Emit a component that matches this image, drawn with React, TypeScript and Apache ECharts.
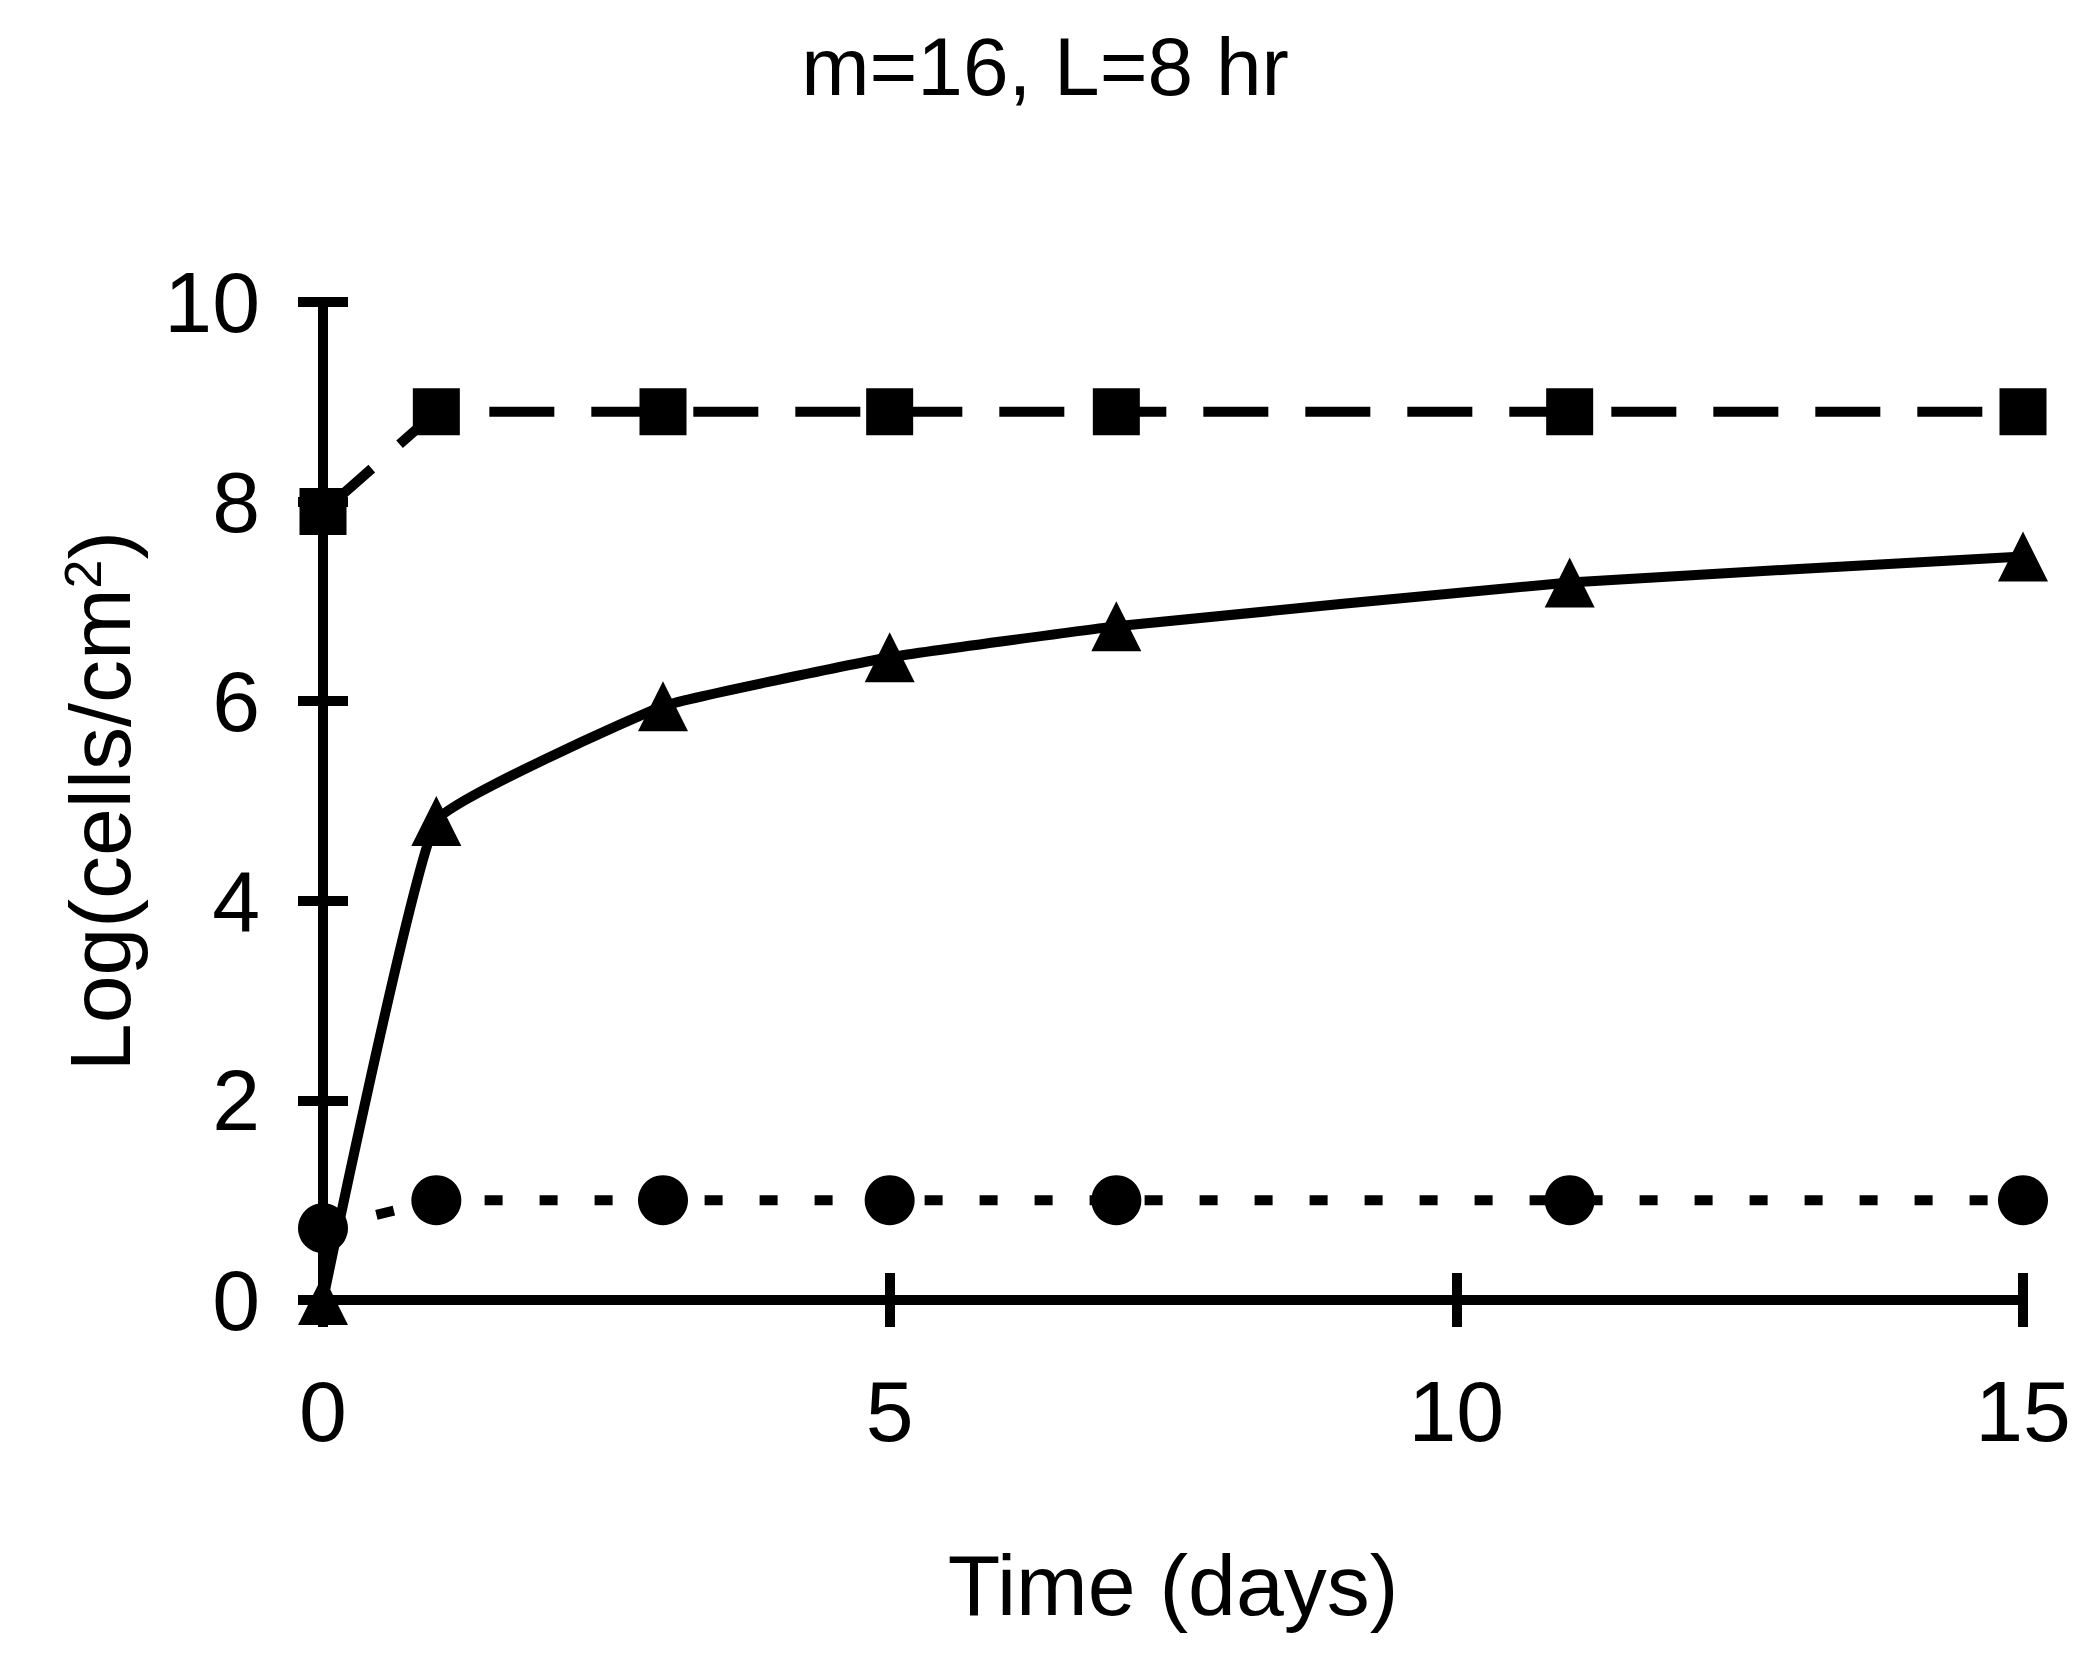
import React, { useEffect, useRef } from "react";
import * as echarts from "echarts";

const days = [0, 1, 3, 5, 7, 11, 15];
const squareValues = [7.9, 8.9, 8.9, 8.9, 8.9, 8.9, 8.9];
const triangleValues = [0, 4.8, 5.95, 6.44, 6.75, 7.19, 7.45];
const circleValues = [0.72, 1.0, 1.0, 1.0, 1.0, 1.0, 1.0];
const xTicks = [0, 5, 10, 15];
const yTicks = [0, 2, 4, 6, 8, 10];

const FONT = "'Liberation Sans', Arial, sans-serif";

export default function App() {
  const ref = useRef<HTMLDivElement>(null);
  useEffect(() => {
    if (!ref.current) return;
    const chart = echarts.init(ref.current, null, { renderer: "svg" });
    const pair = (vals: number[]) => days.map((d, i) => [d, vals[i]]);
    const axisLine = { show: true, lineStyle: { color: "#000", width: 10 } };
    const tickStyle = { color: "#000", width: 10 };
    const option: any = {
      animation: false,
      backgroundColor: "#fff",
      title: {
        text: "m=16, L=8 hr",
        left: 1040,
        textAlign: "center",
        top: 20,
        textStyle: { fontFamily: FONT, fontSize: 82, fontWeight: "normal", color: "#000" },
      },
      grid: { left: 323, right: 58, top: 302, bottom: 363, containLabel: false },
      xAxis: [
        {
          type: "value",
          position: "bottom",
          min: 0,
          max: 15,
          interval: 5,
          axisLine,
          axisTick: { show: true, inside: false, length: 27, lineStyle: tickStyle },
          splitLine: { show: false },
          axisLabel: {
            margin: 68,
            fontFamily: FONT,
            fontSize: 86,
            color: "#000",
            formatter: (v: number) => (xTicks.includes(v) ? String(v) : ""),
          },
          name: "Time (days)",
          nameLocation: "middle",
          nameGap: 242,
          nameTextStyle: { fontFamily: FONT, fontSize: 86, color: "#000", verticalAlign: "top" },
        },
        {
          type: "value",
          position: "bottom",
          min: 0,
          max: 15,
          interval: 5,
          axisLine: { show: false },
          axisTick: { show: true, inside: true, length: 27, lineStyle: tickStyle },
          splitLine: { show: false },
          axisLabel: { show: false },
        },
      ],
      yAxis: [
        {
          type: "value",
          position: "left",
          min: 0,
          max: 10,
          interval: 2,
          axisLine,
          axisTick: { show: true, inside: false, length: 25, lineStyle: tickStyle },
          splitLine: { show: false },
          axisLabel: {
            margin: 63,
            fontFamily: FONT,
            fontSize: 86,
            color: "#000",
            formatter: (v: number) => (yTicks.includes(v) ? String(v) : ""),
          },
          name: "Log(cells/cm{sup|2})",
          nameLocation: "middle",
          nameGap: 180,
          nameTextStyle: {
            fontFamily: FONT,
            fontSize: 86,
            color: "#000",
            rich: {
              sup: { fontFamily: FONT, fontSize: 52, color: "#000", verticalAlign: "top", padding: [0, 0, 30, 0] },
            },
          },
        },
        {
          type: "value",
          position: "left",
          min: 0,
          max: 10,
          interval: 2,
          axisLine: { show: false },
          axisTick: { show: true, inside: true, length: 25, lineStyle: tickStyle },
          splitLine: { show: false },
          axisLabel: { show: false },
        },
      ],
      series: [
        {
          type: "line",
          data: pair(squareValues),
          symbol: "rect",
          symbolSize: 47,
          clip: false,
          itemStyle: { color: "#000" },
          lineStyle: { color: "#000", width: 10, type: [65, 37] },
        },
        {
          type: "line",
          data: pair(triangleValues),
          symbol: "triangle",
          symbolSize: [50, 50],
          clip: false,
          smooth: 0.1,
          itemStyle: { color: "#000" },
          lineStyle: { color: "#000", width: 10, type: "solid" },
        },
        {
          type: "line",
          data: pair(circleValues),
          symbol: "circle",
          symbolSize: 50,
          clip: false,
          itemStyle: { color: "#000" },
          lineStyle: { color: "#000", width: 10, type: [18, 37] },
        },
      ],
    };
    chart.setOption(option);
    return () => chart.dispose();
  }, []);
  return (
    <div
      ref={ref}
      style={{ position: "absolute", left: 0, top: 0, width: 2081, height: 1663, background: "#fff" }}
    />
  );
}
